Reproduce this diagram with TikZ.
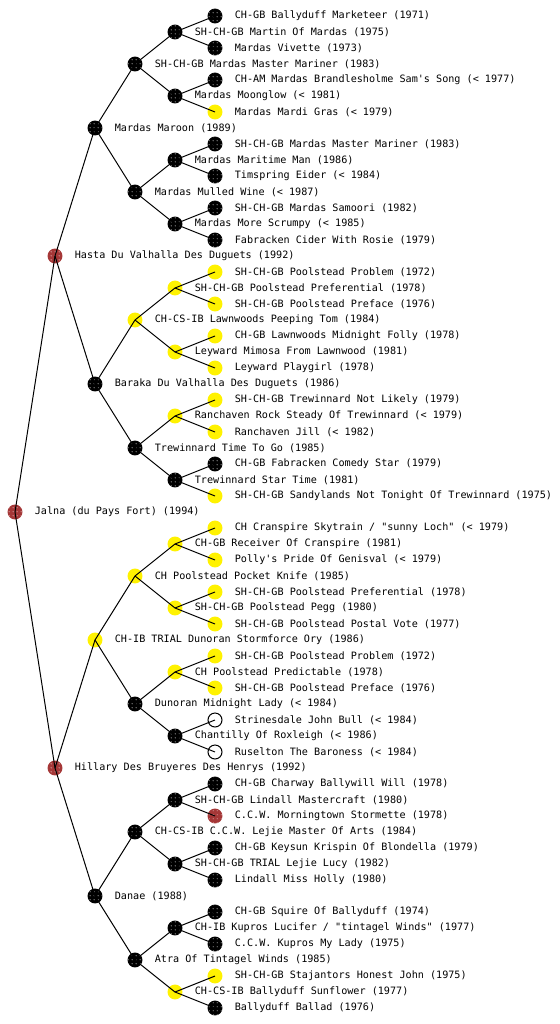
\documentclass[tikz,border=0pt]{standalone}
\usepackage{fontspec}
\usetikzlibrary{patterns}
\newfontfamily\pix{DejaVu Sans Mono}
\definecolor{dogred}{RGB}{165,55,55}
\pgfdeclarepatternformonly{speck}{\pgfpointorigin}{\pgfqpoint{3.2pt}{3.2pt}}{\pgfqpoint{3.2pt}{3.2pt}}{\pgfpathcircle{\pgfqpoint{1pt}{1pt}}{0.42pt}\pgfusepath{fill}}
\newcommand\pp[5]{\node[#4] (#1) at (#2,#3) {};\node[lbl] (#1t) at (#2+19.6,#3) {#5};}
\tikzset{
  dog/.style={circle,inner sep=0pt,minimum size=11.2pt},
  blk/.style={dog,fill=black,postaction={pattern=speck,pattern color=white}},
  yel/.style={dog,fill=yellow},
  rdd/.style={dog,fill=dogred,postaction={pattern=speck,pattern color=white!85!dogred}},
  wht/.style={dog,draw=black,line width=0.75pt,fill=white,minimum size=10.5pt},
  lbl/.style={anchor=west,inner sep=0pt,font=\pix\fontsize{7.6pt}{8pt}\selectfont},
  edge/.style={draw=black,line width=0.75pt}
}
\begin{document}
\begin{tikzpicture}[x=0.75pt,y=-0.75pt]
\useasboundingbox (0,0) rectangle (560,1024);
\fill[white] (0,0) rectangle (560,1024);
% generation 0
\pp{n1}{15}{512}{rdd}{Jalna (du Pays Fort) (1994)}
% generation 1
\pp{n2}{55}{256}{rdd}{Hasta Du Valhalla Des Duguets (1992)}
\pp{n3}{55}{768}{rdd}{Hillary Des Bruyeres Des Henrys (1992)}
% generation 2
\pp{n4}{95}{128}{blk}{Mardas Maroon (1989)}
\pp{n5}{95}{384}{blk}{Baraka Du Valhalla Des Duguets (1986)}
\pp{n6}{95}{640}{yel}{CH-IB TRIAL Dunoran Stormforce Ory (1986)}
\pp{n7}{95}{896}{blk}{Danae (1988)}
% generation 3
\pp{n8}{135}{64}{blk}{SH-CH-GB Mardas Master Mariner (1983)}
\pp{n9}{135}{192}{blk}{Mardas Mulled Wine (< 1987)}
\pp{n10}{135}{320}{yel}{CH-CS-IB Lawnwoods Peeping Tom (1984)}
\pp{n11}{135}{448}{blk}{Trewinnard Time To Go (1985)}
\pp{n12}{135}{576}{yel}{CH Poolstead Pocket Knife (1985)}
\pp{n13}{135}{704}{blk}{Dunoran Midnight Lady (< 1984)}
\pp{n14}{135}{832}{blk}{CH-CS-IB C.C.W. Lejie Master Of Arts (1984)}
\pp{n15}{135}{960}{blk}{Atra Of Tintagel Winds (1985)}
% generation 4
\pp{n16}{175}{32}{blk}{SH-CH-GB Martin Of Mardas (1975)}
\pp{n17}{175}{96}{blk}{Mardas Moonglow (< 1981)}
\pp{n18}{175}{160}{blk}{Mardas Maritime Man (1986)}
\pp{n19}{175}{224}{blk}{Mardas More Scrumpy (< 1985)}
\pp{n20}{175}{288}{yel}{SH-CH-GB Poolstead Preferential (1978)}
\pp{n21}{175}{352}{yel}{Leyward Mimosa From Lawnwood (1981)}
\pp{n22}{175}{416}{yel}{Ranchaven Rock Steady Of Trewinnard (< 1979)}
\pp{n23}{175}{480}{blk}{Trewinnard Star Time (1981)}
\pp{n24}{175}{544}{yel}{CH-GB Receiver Of Cranspire (1981)}
\pp{n25}{175}{608}{yel}{SH-CH-GB Poolstead Pegg (1980)}
\pp{n26}{175}{672}{yel}{CH Poolstead Predictable (1978)}
\pp{n27}{175}{736}{blk}{Chantilly Of Roxleigh (< 1986)}
\pp{n28}{175}{800}{blk}{SH-CH-GB Lindall Mastercraft (1980)}
\pp{n29}{175}{864}{blk}{SH-CH-GB TRIAL Lejie Lucy (1982)}
\pp{n30}{175}{928}{blk}{CH-IB Kupros Lucifer / "tintagel Winds" (1977)}
\pp{n31}{175}{992}{yel}{CH-CS-IB Ballyduff Sunflower (1977)}
% generation 5
\pp{n32}{215}{16}{blk}{CH-GB Ballyduff Marketeer (1971)}
\pp{n33}{215}{48}{blk}{Mardas Vivette (1973)}
\pp{n34}{215}{80}{blk}{CH-AM Mardas Brandlesholme Sam's Song (< 1977)}
\pp{n35}{215}{112}{yel}{Mardas Mardi Gras (< 1979)}
\pp{n36}{215}{144}{blk}{SH-CH-GB Mardas Master Mariner (1983)}
\pp{n37}{215}{176}{blk}{Timspring Eider (< 1984)}
\pp{n38}{215}{208}{blk}{SH-CH-GB Mardas Samoori (1982)}
\pp{n39}{215}{240}{blk}{Fabracken Cider With Rosie (1979)}
\pp{n40}{215}{272}{yel}{SH-CH-GB Poolstead Problem (1972)}
\pp{n41}{215}{304}{yel}{SH-CH-GB Poolstead Preface (1976)}
\pp{n42}{215}{336}{yel}{CH-GB Lawnwoods Midnight Folly (1978)}
\pp{n43}{215}{368}{yel}{Leyward Playgirl (1978)}
\pp{n44}{215}{400}{yel}{SH-CH-GB Trewinnard Not Likely (1979)}
\pp{n45}{215}{432}{yel}{Ranchaven Jill (< 1982)}
\pp{n46}{215}{464}{blk}{CH-GB Fabracken Comedy Star (1979)}
\pp{n47}{215}{496}{yel}{SH-CH-GB Sandylands Not Tonight Of Trewinnard (1975)}
\pp{n48}{215}{528}{yel}{CH Cranspire Skytrain / "sunny Loch" (< 1979)}
\pp{n49}{215}{560}{yel}{Polly's Pride Of Genisval (< 1979)}
\pp{n50}{215}{592}{yel}{SH-CH-GB Poolstead Preferential (1978)}
\pp{n51}{215}{624}{yel}{SH-CH-GB Poolstead Postal Vote (1977)}
\pp{n52}{215}{656}{yel}{SH-CH-GB Poolstead Problem (1972)}
\pp{n53}{215}{688}{yel}{SH-CH-GB Poolstead Preface (1976)}
\pp{n54}{215}{720}{wht}{Strinesdale John Bull (< 1984)}
\pp{n55}{215}{752}{wht}{Ruselton The Baroness (< 1984)}
\pp{n56}{215}{784}{blk}{CH-GB Charway Ballywill Will (1978)}
\pp{n57}{215}{816}{rdd}{C.C.W. Morningtown Stormette (1978)}
\pp{n58}{215}{848}{blk}{CH-GB Keysun Krispin Of Blondella (1979)}
\pp{n59}{215}{880}{blk}{Lindall Miss Holly (1980)}
\pp{n60}{215}{912}{blk}{CH-GB Squire Of Ballyduff (1974)}
\pp{n61}{215}{944}{blk}{C.C.W. Kupros My Lady (1975)}
\pp{n62}{215}{976}{yel}{SH-CH-GB Stajantors Honest John (1975)}
\pp{n63}{215}{1008}{blk}{Ballyduff Ballad (1976)}
% connectors parent -> child
\foreach \i in {2,...,63}{
  \pgfmathtruncatemacro\pidx{floor(\i/2)}
  \draw[edge] (n\pidx.center) -- (n\i.center);
}
\end{tikzpicture}
\end{document}
